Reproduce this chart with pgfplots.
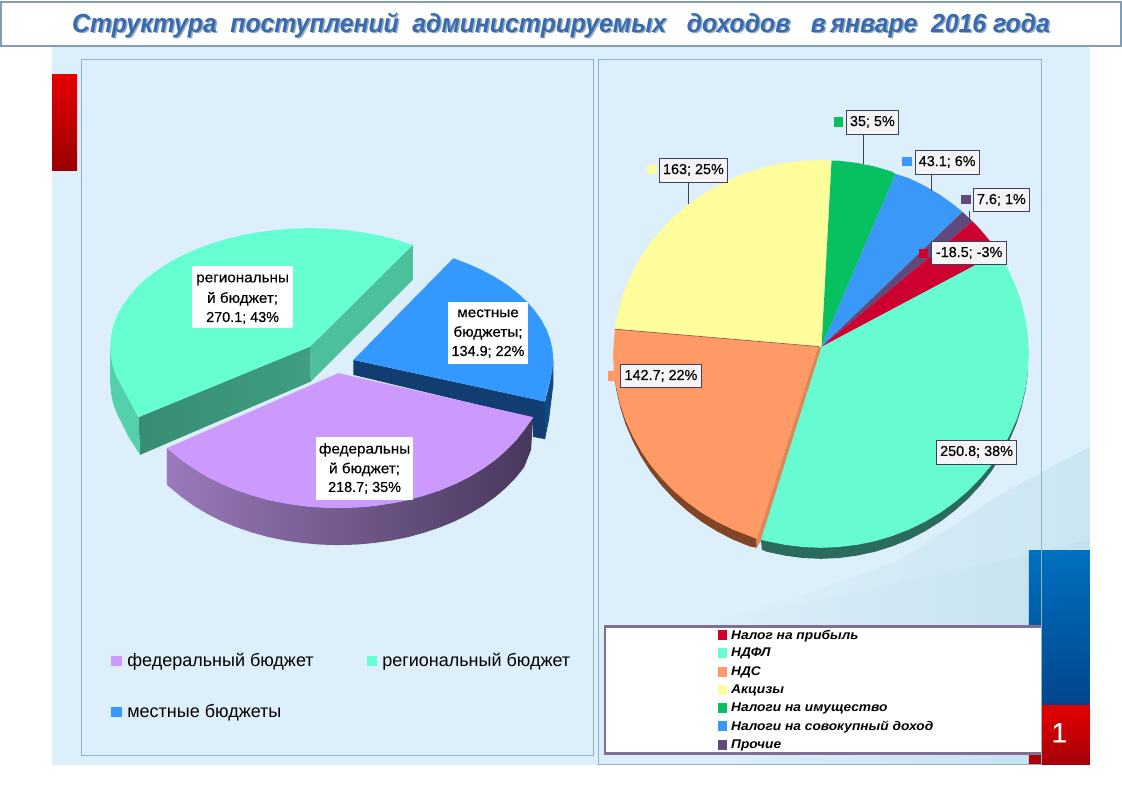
\documentclass[border=0pt]{standalone}
\usepackage{fontspec}
\setmainfont{Liberation Sans}
\newfontfamily\lab{Liberation Sans}[FakeBold=0.4]
\usepackage{graphicx}
\usepackage{pgfplots}
\pgfplotsset{compat=1.18}

\definecolor{cBack}{HTML}{DDEFFA}
\definecolor{cWaveA}{HTML}{CBE6F2}
\definecolor{cWaveB}{HTML}{C3E1EE}
\definecolor{cPanel}{HTML}{8FB0C8}
\definecolor{cTitle}{HTML}{3A69AE}
\definecolor{cFed}{HTML}{CC99FF}
\definecolor{cReg}{HTML}{66FFD2}
\definecolor{cLoc}{HTML}{3399FF}
\definecolor{cLocDark}{HTML}{123D70}
\definecolor{cLocRim}{HTML}{134880}
\definecolor{cNalog}{HTML}{CE0030}
\definecolor{cNdfl}{HTML}{66FBD0}
\definecolor{cNdflDark}{HTML}{2A6B5E}
\definecolor{cNds}{HTML}{FF9966}
\definecolor{cNdsDark}{HTML}{7F4526}
\definecolor{cAkc}{HTML}{FDFD9C}
\definecolor{cIm}{HTML}{07C160}
\definecolor{cSov}{HTML}{3A98F8}
\definecolor{cPro}{HTML}{604A7B}
\definecolor{cBox}{HTML}{F4F4F6}
\definecolor{cEdge}{HTML}{40405A}

\pgfplotsset{slice/.style={fill=#1,draw=none,mark=none,forget plot}}
\tikzset{
  txt/.style={inner sep=0pt,font=\lab\fontsize{14.4bp}{17bp}\selectfont,text=black},
  leg/.style={inner sep=0pt,anchor=west,font=\fontsize{18bp}{21bp}\selectfont,text=black},
  leg2/.style={inner sep=0pt,anchor=west,text=black},
  lbl/.style={fill=cBox,draw=cEdge,line width=0.9bp}
}
\newcommand{\wide}[1]{\scalebox{1.06}[1]{#1}}
\newcommand{\legtext}[1]{\scalebox{1.09}[1]{\fontsize{12.6bp}{15bp}\selectfont\bfseries\itshape #1}}
\newcommand{\ttext}{Структура\ \ поступлений\ \ администрируемых\ \ \ доходов\ \ \ в\hspace{0.2em}январе\ \ 2016\ года}

\begin{document}
\begin{tikzpicture}
\begin{axis}[
  hide axis,
  scale only axis,
  width=1122bp,
  height=793bp,
  xmin=0, xmax=1122,
  ymin=0, ymax=793,
  y dir=reverse,
  clip=false,
]
% page and panels
\fill[white] (axis cs:0,0) rectangle (axis cs:1122,793);
\fill[cBack] (axis cs:52,45) rectangle (axis cs:1090,765);
\addplot[draw=none,mark=none,forget plot,left color=cBack,right color=cWaveA] coordinates {(690,628) (800,597) (900,560) (950,528) (1000,495) (1090,447) (1090,765) (690,765)};
\addplot[draw=none,mark=none,forget plot,left color=cBack,right color=cWaveB] coordinates {(700,626) (800,605) (900,583) (1029,555) (1090,540) (1090,765) (700,765)};

% bars at the sides
\fill[top color=red!90!black,bottom color=red!60!black] (axis cs:52,75) rectangle (axis cs:77,171);
\fill[top color={rgb,255:red,230;green,0;blue,0},bottom color={rgb,255:red,165;green,0;blue,10}] (axis cs:1029,705) rectangle (axis cs:1090,765);
\fill[top color={rgb,255:red,0;green,112;blue,192},bottom color={rgb,255:red,0;green,70;blue,140}] (axis cs:1029,551) rectangle (axis cs:1090,705);

\draw[cPanel,line width=0.8bp] (axis cs:81,59) rectangle (axis cs:593,756);
\draw[cPanel,line width=0.8bp] (axis cs:598,59) rectangle (axis cs:1042,765);

% title
\fill[white] (axis cs:1,2) rectangle (axis cs:1121,45);
\draw[cPanel!90!black,line width=2.4bp] (axis cs:1,2) rectangle (axis cs:1121,46);
\node[inner sep=0pt,text=cPanel] at (axis cs:562.5,26.5) {\resizebox*{978bp}{25bp}{\bfseries\itshape\ttext}};
\node[inner sep=0pt,text=cTitle] at (axis cs:561,25) {\resizebox*{978bp}{25bp}{\bfseries\itshape\ttext}};

% left pie, regional slice
\addplot[slice=cReg!75!black] coordinates {(310,346.7) (412.7,245) (412.7,280) (310.7,381.7)};
\addplot[draw=none,mark=none,forget plot,left color=cReg!55!black,right color=cReg!62!black] coordinates {(138.3,417.3) (310,346.7) (310.7,381.7) (140,455)};
\addplot[slice=cReg!82!black] coordinates {(110,346.7) (110.8,357) (113,367.3) (116.8,377.4) (122.1,387.2) (129,400) (138.3,417.3) (140,455) (129,438) (122,424) (116.8,414) (113,403.5) (110.8,393) (110,383)};
\addplot[slice=cReg] coordinates {(310,346.7) (412.7,245) (410,244.1) (394.6,239.3) (378.4,235.3) (361.8,232.2) (344.7,230) (327.4,228.7) (310,228.2) (292.6,228.7) (275.3,230) (258.2,232.2) (241.6,235.3) (225.4,239.3) (210,244.1) (195.3,249.7) (181.4,255.9) (168.6,262.9) (156.8,270.5) (146.2,278.7) (136.8,287.4) (128.8,296.6) (122.1,306.2) (116.8,316) (113,326.1) (110.8,336.4) (110,346.7) (110.8,357) (113,367.3) (116.8,377.4) (122.1,387.2) (129,400) (138.3,417.3)};

% left pie, local slice
\addplot[slice=cLocDark] coordinates {(353.3,360) (545,401.7) (545,439.3) (533,437) (533,418) (353.3,375)};
\addplot[slice=cLocRim] coordinates {(553.3,360) (553.3,385) (549,420) (545,439.3) (545,401.7) (550.3,380.4)};
\addplot[slice=cLoc] coordinates {(353.3,360) (453.3,258.3) (468.1,263.9) (481.9,270.1) (494.7,277) (506.5,284.5) (517.1,292.6) (526.5,301.3) (534.5,310.4) (541.2,319.8) (546.5,329.6) (550.3,339.6) (552.5,349.8) (553.3,360) (552.5,370.2) (550.3,380.4) (547,391) (545,401.7)};

% left pie, federal slice
\addplot[draw=none,mark=none,forget plot,left color=cFed!70!black!90,middle color=cPro!90!black,right color=cPro!75!black] coordinates {(166.7,448.3) (181.3,460.1) (206.5,476.7) (235.8,490.2) (268.2,500.2) (302.7,506.2) (338.3,508.3) (373.9,506.2) (408.4,500.2) (440.8,490.2) (470.1,476.7) (495.3,460.1) (515.8,440.8) (533.3,417.3) (531,450) (524.1,467.4) (515.8,477.8) (506.2,487.7) (495.3,497.1) (483.2,505.8) (470.1,513.7) (456,520.9) (440.8,527.2) (425,532.6) (408.4,537.2) (391.4,540.7) (373.9,543.2) (356.1,544.8) (338.3,545.3) (320.5,544.8) (302.7,543.2) (285.2,540.7) (268.2,537.2) (251.6,532.6) (235.8,527.2) (220.6,520.9) (206.5,513.7) (193.4,505.8) (181.3,497.1) (166.7,485)};
\addplot[slice=cFed] coordinates {(338.3,373.3) (166.7,448.3) (181.3,460.1) (193.4,468.8) (206.5,476.7) (220.6,483.9) (235.8,490.2) (251.6,495.6) (268.2,500.2) (285.2,503.7) (302.7,506.2) (320.5,507.8) (338.3,508.3) (356.1,507.8) (373.9,506.2) (391.4,503.7) (408.4,500.2) (425,495.6) (440.8,490.2) (456,483.9) (470.1,476.7) (483.2,468.8) (495.3,460.1) (506.2,450.7) (515.8,440.8) (524.1,430.4) (533.3,417.3)};

% left pie, labels
\fill[white] (axis cs:192,266) rectangle (axis cs:292.7,328.3);
\node[txt] at (axis cs:242.5,280) {\wide{региональны}};
\node[txt] at (axis cs:242.5,299) {\wide{й бюджет;}};
\node[txt] at (axis cs:242.5,318) {270.1; 43\%};
\fill[white] (axis cs:448.3,301.7) rectangle (axis cs:528.3,364);
\node[txt] at (axis cs:488,313.5) {\wide{местные}};
\node[txt] at (axis cs:488,333) {\wide{бюджеты;}};
\node[txt] at (axis cs:488,352) {134.9; 22\%};
\fill[white] (axis cs:316,437.3) rectangle (axis cs:413.3,500);
\node[txt] at (axis cs:364.5,450) {\wide{федеральны}};
\node[txt] at (axis cs:364.5,469.5) {\wide{й бюджет;}};
\node[txt] at (axis cs:364.5,488) {218.7; 35\%};

% left legend
\addplot[only marks,mark=square*,mark size=4.6bp,color=cFed,forget plot] coordinates {(116,661)};
\addplot[only marks,mark=square*,mark size=4.6bp,color=cReg,forget plot] coordinates {(372,661)};
\addplot[only marks,mark=square*,mark size=4.6bp,color=cLoc,forget plot] coordinates {(116,712)};
\node[leg] at (axis cs:127,661.5) {федеральный бюджет};
\node[leg] at (axis cs:382,661.5) {региональный бюджет};
\node[leg] at (axis cs:127,712.5) {местные бюджеты};

% right pie, sides
\addplot[slice=cNdflDark] coordinates {(1028.2,370.9) (1028.2,371.9) (1025.8,389.6) (1021.9,407) (1016.5,424.2) (1009.4,440.8) (1001.1,456.5) (991.4,471.7) (980.3,485.8) (968.1,499) (954.7,511) (940.4,521.9) (925,531.5) (909,539.8) (892.1,546.6) (874.9,552) (857.1,555.8) (839.1,558.2) (821,559) (802.9,558.2) (784.9,555.8) (767.1,552) (762,550) (761,540) (821,450)};
\addplot[slice=cNdsDark] coordinates {(756.7,539) (756.7,548) (749.9,546.6) (733,539.8) (717,531.5) (701.6,521.9) (687.3,511) (673.9,499) (661.7,485.8) (650.6,471.7) (640.9,456.5) (632.6,440.8) (625.5,424.2) (620.1,407) (616.2,389.6) (613.8,371.9) (720,450)};
\addplot[slice=cNds!88!black] coordinates {(818,347) (756.7,539) (756.7,548) (761,541) (821.7,347)};

% right pie, top
\addplot[slice=cNdfl] coordinates {(821.7,347) (998,253) (1001.1,257) (1009.4,271.9) (1016.5,287.6) (1021.9,303.8) (1025.8,320.3) (1028.2,337.1) (1029,354) (1028.2,370.9) (1025.8,387.7) (1021.9,404.2) (1016.5,420.4) (1009.4,436.1) (1001.1,451) (991.4,465.4) (980.3,478.7) (968.1,491.2) (954.7,502.6) (940.4,512.9) (925,522) (909,529.8) (892.1,536.3) (874.9,541.4) (857.1,545) (839.1,547.2) (821,548) (802.9,547.2) (784.9,545) (767.1,541.4) (761,540)};
\addplot[slice=cNds] coordinates {(818,347) (615,329.3) (613,354) (613.8,370.9) (616.2,387.7) (620.1,404.2) (625.5,420.4) (632.6,436.1) (640.9,451) (650.6,465.4) (661.7,478.7) (673.9,491.2) (687.3,502.6) (701.6,512.9) (717,522) (733,529.8) (749.9,536.3) (756.7,539)};
\addplot[slice=cAkc] coordinates {(821.7,346.7) (615,329.3) (616.2,320.3) (620.1,303.8) (625.5,287.6) (632.6,271.9) (640.9,257) (650.6,242.6) (661.7,229.3) (673.9,216.8) (687.3,205.4) (701.6,195.1) (717,186) (733,178.2) (749.9,171.7) (767.1,166.6) (784.9,163) (802.9,160.8) (821,160) (831.7,160.7)};
\addplot[slice=cIm] coordinates {(821.7,346.7) (831.7,160.7) (839.1,160.8) (857.1,163) (874.9,166.6) (892.1,171.7) (895.7,174)};
\addplot[slice=cSov] coordinates {(821.7,346.7) (895.7,174) (909,178.2) (925,186) (940.4,195.1) (954.7,205.4) (962.7,212)};
\addplot[slice=cPro] coordinates {(821.7,346.7) (962.7,212) (972.7,221.5)};
\addplot[slice=cNalog] coordinates {(821.7,346.7) (972.7,221.5) (980.3,229.3) (991.4,242.6) (998,253)};
\addplot[draw=cNds!60!black,line width=0.7bp,mark=none,forget plot] coordinates {(615,329.3) (819,346.7)};

% right pie, leader lines and labels
\draw[cEdge,line width=0.9bp] (axis cs:864,134) -- (axis cs:864,164);
\draw[cEdge,line width=0.9bp] (axis cs:931.5,174) -- (axis cs:931.5,191);
\draw[cEdge,line width=0.9bp] (axis cs:969.5,211) -- (axis cs:969.5,221);
\draw[cEdge,line width=0.9bp] (axis cs:688,182) -- (axis cs:688,204);
\draw[lbl] (axis cs:846.7,110.7) rectangle (axis cs:898.3,134.3);
\node[txt] at (axis cs:872.5,122) {35; 5\%};
\draw[lbl] (axis cs:915.3,150.7) rectangle (axis cs:979.3,174.3);
\node[txt] at (axis cs:947.3,162) {43.1; 6\%};
\draw[lbl] (axis cs:973.7,188.7) rectangle (axis cs:1029.3,211.3);
\node[txt] at (axis cs:1001.5,200) {7.6; 1\%};
\draw[lbl] (axis cs:932,241.7) rectangle (axis cs:1006.7,265);
\node[txt] at (axis cs:969.3,253) {-18.5; -3\%};
\draw[lbl] (axis cs:659.3,158.3) rectangle (axis cs:727.7,182.3);
\node[txt] at (axis cs:693.5,170) {163; 25\%};
\draw[lbl] (axis cs:620.7,364.7) rectangle (axis cs:701.3,387.3);
\node[txt] at (axis cs:661,376) {142.7; 22\%};
\draw[lbl] (axis cs:936.7,440.7) rectangle (axis cs:1016.7,464.3);
\node[txt] at (axis cs:976.7,452) {250.8; 38\%};

% right legend box
\fill[white] (axis cs:604,627) rectangle (axis cs:1041,754);
\draw[cPro!80!white,line width=2.6bp] (axis cs:604,627) -- (axis cs:1041,627);
\draw[cPro!80!white,line width=2.6bp] (axis cs:605,627) -- (axis cs:605,754) -- (axis cs:1041,754);
\draw[cPanel,line width=0.8bp] (axis cs:1042,551) -- (axis cs:1042,765);

\addplot[only marks,mark=square*,mark size=4.2bp,color=cNalog,forget plot] coordinates {(923.3,253) (722,635)};
\addplot[only marks,mark=square*,mark size=4.2bp,color=cNdfl,forget plot] coordinates {(722,653)};
\addplot[only marks,mark=square*,mark size=4.2bp,color=cNds,forget plot] coordinates {(612,376) (722,672)};
\addplot[only marks,mark=square*,mark size=4.2bp,color=cAkc,forget plot] coordinates {(651.7,169.3) (722,690)};
\addplot[only marks,mark=square*,mark size=4.2bp,color=cIm,forget plot] coordinates {(838,121.7) (722,708)};
\addplot[only marks,mark=square*,mark size=4.2bp,color=cSov,forget plot] coordinates {(907,161.3) (722,726)};
\addplot[only marks,mark=square*,mark size=4.2bp,color=cPro,forget plot] coordinates {(965.7,199.3) (722,745)};

\node[leg2] at (axis cs:731,636) {\legtext{Налог на прибыль}};
\node[leg2] at (axis cs:731,654) {\legtext{НДФЛ}};
\node[leg2] at (axis cs:731,673) {\legtext{НДС}};
\node[leg2] at (axis cs:731,691) {\legtext{Акцизы}};
\node[leg2] at (axis cs:731,709) {\legtext{Налоги на имущество}};
\node[leg2] at (axis cs:731,727) {\legtext{Налоги на совокупный доход}};
\node[leg2] at (axis cs:731,746) {\legtext{Прочие}};

\node[inner sep=0pt,text=white,font=\lab\fontsize{28bp}{30bp}\selectfont] at (axis cs:1059.5,733) {1};
\end{axis}
\end{tikzpicture}
\end{document}
